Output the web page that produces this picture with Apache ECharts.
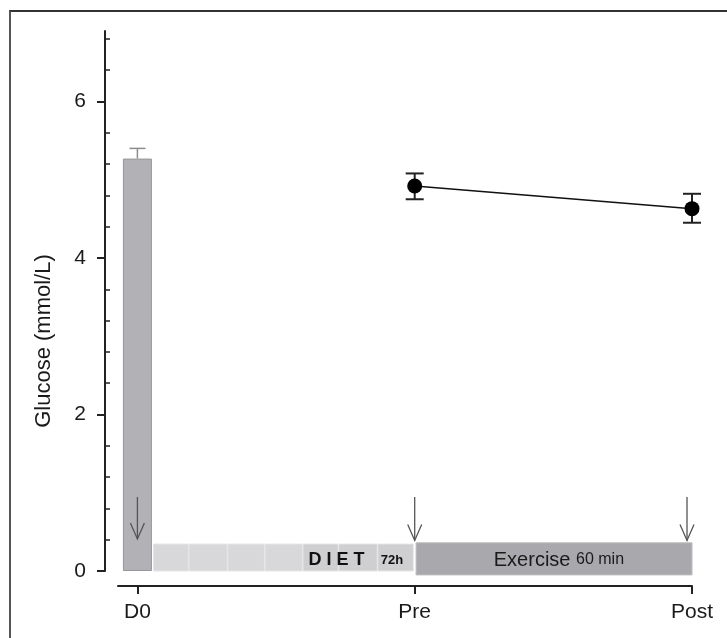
<!DOCTYPE html>
<html>
<head>
<meta charset="utf-8">
<script src="https://cdn.jsdelivr.net/npm/echarts@6/dist/echarts.min.js"></script>
<style>
html,body{margin:0;padding:0;background:#fff;}
#wrap{position:relative;width:727px;height:638px;overflow:hidden;}
#chart{position:absolute;left:0;top:0;width:727px;height:638px;}
#frame{position:absolute;left:9px;top:10px;width:740px;height:660px;border-top:2px solid #333;border-left:2px solid #555;pointer-events:none;}
</style>
</head>
<body>
<div id="wrap"><div id="chart"></div><div id="frame"></div></div>
<script>
// ---- data ----
const categories = ['D0', 'Pre', 'Post'];
const categoryPositions = [0, 1, 2];
const yTickLabels = [0, 2, 4, 6];
const yMinorTicks = [0.4, 0.8, 1.2, 1.6, 2.4, 2.8, 3.2, 3.6, 4.4, 4.8, 5.2, 5.6, 6.4, 6.8];

const baselineMean = [5.27];        // D0 bar
const baselineUpper = [5.40];       // D0 upper error
const timeMean = [4.92, 4.63];      // Pre, Post
const timeLower = [4.75, 4.45];
const timeUpper = [5.08, 4.82];

// protocol strip (x in axis units, y in mmol/L)
const dietStart = [0.058, 0.186, 0.326, 0.460, 0.597, 0.726, 0.867];
const dietEnd   = [0.184, 0.324, 0.458, 0.595, 0.724, 0.865, 0.995];
const dietHeight = 0.345;
const exerciseStart = 1.005, exerciseEnd = 2.0, exerciseLow = -0.05, exerciseHigh = 0.36;

// sampling arrows
const arrowX = [0, 1, 1.982];
const arrowTop = [0.945, 0.945, 0.945];
const arrowBottom = [0.41, 0.39, 0.39];

// strip labels
const stripLabelX = [0.718, 0.918, 1.52];
const stripLabelY = [0.14, 0.14, 0.14];
const stripLabelText = ['D I E T', '72h', '{a|Exercise} {b|60 min}'];

// ---- chart ----
const chart = echarts.init(document.getElementById('chart'), null, {renderer: 'canvas'});
const FONT = '"Liberation Sans", Arial, sans-serif';

function errRender(color, lw, hw, lowerCap) {
  return function (params, api) {
    const x = api.value(0), lo = api.value(1), hi = api.value(2);
    const a = api.coord([x, lo]), b = api.coord([x, hi]);
    const st = {stroke: color, lineWidth: lw};
    const ch = [
      {type: 'line', shape: {x1: a[0], y1: a[1], x2: b[0], y2: b[1]}, style: st},
      {type: 'line', shape: {x1: b[0] - hw, y1: b[1], x2: b[0] + hw, y2: b[1]}, style: st}
    ];
    if (lowerCap) ch.push({type: 'line', shape: {x1: a[0] - hw, y1: a[1], x2: a[0] + hw, y2: a[1]}, style: st});
    return {type: 'group', children: ch};
  };
}

const option = {
  animation: false,
  backgroundColor: '#fff',
  grid: {left: 118, right: 35, top: 31, bottom: 67, containLabel: false},
  xAxis: {
    type: 'value', min: -0.07, max: 2, offset: 15,
    axisLine: {show: true, onZero: false, lineStyle: {color: '#222', width: 2}},
    axisTick: {show: true, customValues: categoryPositions, length: 8, lineStyle: {color: '#222', width: 2}},
    axisLabel: {show: true, customValues: categoryPositions, margin: 16, fontSize: 21, color: '#1a1a1a', fontFamily: FONT,
      formatter: v => categories[Math.round(v)]},
    splitLine: {show: false}
  },
  yAxis: [{
    type: 'value', min: 0, max: 6.9, offset: 13, position: 'left',
    name: 'Glucose (mmol/L)', nameLocation: 'middle', nameGap: 50,
    nameTextStyle: {fontSize: 22, color: '#1a1a1a', fontFamily: FONT, padding: [0, 80, 0, 0]},
    axisLine: {show: true, onZero: false, lineStyle: {color: '#222', width: 2}},
    axisTick: {show: true, customValues: yTickLabels, length: 8, lineStyle: {color: '#222', width: 2}},
    axisLabel: {show: true, customValues: yTickLabels, margin: 19, fontSize: 21, color: '#1a1a1a', fontFamily: FONT},
    splitLine: {show: false}
  }, {
    type: 'value', min: 0, max: 6.9, offset: 13, position: 'left',
    axisLine: {show: false, onZero: false},
    axisTick: {show: true, inside: true, customValues: yMinorTicks, length: 5, lineStyle: {color: '#222', width: 1.5}},
    axisLabel: {show: false},
    splitLine: {show: false}
  }],
  series: [
    { // diet strip
      type: 'custom', z: 1,
      data: dietStart.map((s, i) => [s, dietEnd[i], dietHeight, i]),
      encode: {x: [0, 1], y: 2},
      renderItem: function (params, api) {
        const p0 = api.coord([api.value(0), 0]);
        const p1 = api.coord([api.value(1), api.value(2)]);
        const i = api.value(3);
        return {type: 'rect', shape: {x: p0[0], y: p1[1], width: p1[0] - p0[0], height: p0[1] - p1[1]},
          style: {fill: i < 4 ? '#d8d8da' : '#cfcfd1', stroke: '#e6e6e6', lineWidth: 1}};
      }
    },
    { // exercise block
      type: 'custom', z: 1,
      data: [[exerciseStart, exerciseEnd, exerciseLow, exerciseHigh]],
      encode: {x: [0, 1], y: [2, 3]},
      renderItem: function (params, api) {
        const p0 = api.coord([api.value(0), api.value(2)]);
        const p1 = api.coord([api.value(1), api.value(3)]);
        return {type: 'rect', shape: {x: p0[0], y: p1[1], width: p1[0] - p0[0], height: p0[1] - p1[1]},
          style: {fill: '#a9a9ad', stroke: '#bcbcbe', lineWidth: 1}};
      }
    },
    { // D0 bar
      type: 'bar', z: 2, barWidth: 29,
      data: baselineMean.map((v, i) => [categoryPositions[i], v]),
      itemStyle: {color: '#b2b2b6', borderColor: '#97979b', borderWidth: 1}
    },
    { // D0 upper error
      type: 'custom', z: 2,
      data: baselineMean.map((v, i) => [categoryPositions[i], v, baselineUpper[i]]),
      encode: {x: 0, y: [1, 2]},
      renderItem: errRender('#8c8c8c', 1.5, 8, false)
    },
    { // Pre / Post error bars
      type: 'custom', z: 3,
      data: timeMean.map((v, i) => [categoryPositions[i + 1], timeLower[i], timeUpper[i]]),
      encode: {x: 0, y: [1, 2]},
      renderItem: errRender('#222', 2, 9, true)
    },
    { // Pre / Post means
      type: 'line', z: 4,
      data: timeMean.map((v, i) => [categoryPositions[i + 1], v]),
      symbol: 'circle', symbolSize: 15,
      itemStyle: {color: '#000'},
      lineStyle: {color: '#111', width: 1.5}
    },
    { // arrows
      type: 'custom', z: 5,
      data: arrowX.map((x, i) => [x, arrowTop[i], arrowBottom[i]]),
      encode: {x: 0, y: [1, 2]},
      renderItem: function (params, api) {
        const a = api.coord([api.value(0), api.value(1)]);
        const b = api.coord([api.value(0), api.value(2)]);
        const st = {stroke: '#555', lineWidth: 1.3, fill: null};
        return {type: 'group', children: [
          {type: 'line', shape: {x1: a[0], y1: a[1], x2: b[0], y2: b[1]}, style: st},
          {type: 'polyline', shape: {points: [[b[0] - 7, b[1] - 16], [b[0], b[1]], [b[0] + 7, b[1] - 16]]}, style: st}
        ]};
      }
    },
    { // strip labels
      type: 'custom', z: 6,
      data: stripLabelX.map((x, i) => [x, stripLabelY[i], i]),
      encode: {x: 0, y: 1},
      renderItem: function (params, api) {
        const p = api.coord([api.value(0), api.value(1)]);
        const i = api.value(2);
        const styles = [
          {fontSize: 18, fontWeight: 'bold', fill: '#111'},
          {fontSize: 13, fontWeight: 'bold', fill: '#111'},
          {fontSize: 20, fill: '#1a1a1a', rich: {a: {fontSize: 20, fontFamily: FONT, fill: '#1a1a1a'}, b: {fontSize: 16, fontFamily: FONT, fill: '#1a1a1a'}}}
        ];
        return {type: 'text', x: p[0], y: p[1],
          style: Object.assign({text: stripLabelText[i], fontFamily: FONT, align: 'center', verticalAlign: 'middle'}, styles[i])};
      }
    }
  ]
};
chart.setOption(option);
</script>
</body>
</html>
